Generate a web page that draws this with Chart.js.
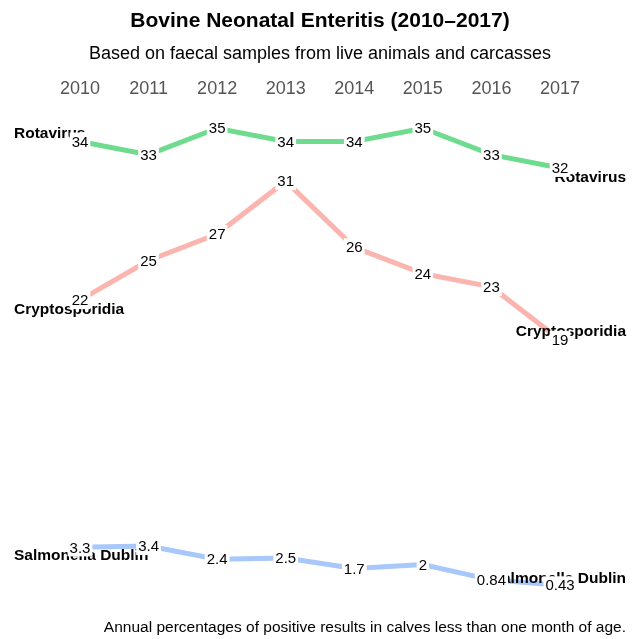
<!DOCTYPE html>
<html>
<head>
<meta charset="utf-8">
<script src="https://cdn.jsdelivr.net/npm/chart.js@4.4.1/dist/chart.umd.min.js"></script>
<style>
  html, body { margin: 0; padding: 0; background: #ffffff; }
  #wrap { width: 638px; height: 639px; }
</style>
</head>
<body>
<div id="wrap"><canvas id="enteritisChart" width="638" height="639"></canvas></div>
<script>
// Data
const years = ['2010', '2011', '2012', '2013', '2014', '2015', '2016', '2017'];
const rotavirus = [34, 33, 35, 34, 34, 35, 33, 32];
const cryptosporidia = [22, 25, 27, 31, 26, 24, 23, 19];
const salmonellaDublin = [3.3, 3.4, 2.4, 2.5, 1.7, 2, 0.84, 0.43];
const seriesNames = ['Rotavirus', 'Cryptosporidia', 'Salmonella Dublin'];
const seriesColors = ['#6fdb8e', '#fbb4ae', '#a8c7fa'];

const FONT = "'Liberation Sans', Arial, Helvetica, sans-serif";

// offsets (px) of the series name from the first / last point
const nameOffsets = [
  { left: -8, right: 10 },
  { left: 10, right: -8 },
  { left: 8, right: -7 }
];

const labelPlugin = {
  id: 'slopeLabels',
  afterDatasetsDraw(chart) {
    const ctx = chart.ctx;
    ctx.save();

    // series names at both ends
    ctx.font = 'bold 15.5px ' + FONT;
    ctx.fillStyle = '#000000';
    ctx.textBaseline = 'middle';
    chart.data.datasets.forEach((ds, i) => {
      const pts = chart.getDatasetMeta(i).data;
      const first = pts[0];
      const last = pts[pts.length - 1];
      ctx.textAlign = 'left';
      ctx.fillText(seriesNames[i], 14, first.y + nameOffsets[i].left);
      ctx.textAlign = 'right';
      ctx.fillText(seriesNames[i], 626, last.y + nameOffsets[i].right);
    });

    // value labels with white background
    ctx.font = '15px ' + FONT;
    ctx.textAlign = 'center';
    chart.data.datasets.forEach((ds, i) => {
      const pts = chart.getDatasetMeta(i).data;
      pts.forEach((p, j) => {
        const txt = String(ds.data[j]);
        const w = ctx.measureText(txt).width;
        ctx.fillStyle = '#ffffff';
        ctx.fillRect(p.x - w / 2 - 2, p.y - 9, w + 4, 18);
        ctx.fillStyle = '#000000';
        ctx.fillText(txt, p.x, p.y + 1);
      });
    });

    // caption
    ctx.font = '15.5px ' + FONT;
    ctx.textAlign = 'right';
    ctx.fillStyle = '#000000';
    ctx.fillText('Annual percentages of positive results in calves less than one month of age.', 626, 628);
    ctx.restore();
  }
};

const ctx = document.getElementById('enteritisChart').getContext('2d');
new Chart(ctx, {
  type: 'line',
  data: {
    labels: years,
    datasets: [
      { label: seriesNames[0], data: rotavirus },
      { label: seriesNames[1], data: cryptosporidia },
      { label: seriesNames[2], data: salmonellaDublin }
    ].map((d, i) => Object.assign(d, {
      borderColor: seriesColors[i],
      backgroundColor: seriesColors[i],
      borderWidth: 5,
      pointRadius: 0,
      tension: 0,
      fill: false
    }))
  },
  options: {
    responsive: false,
    animation: false,
    devicePixelRatio: 1,
    layout: { padding: { left: 80, right: 78, top: 0, bottom: 48 } },
    plugins: {
      legend: { display: false },
      tooltip: { enabled: false },
      title: {
        display: true,
        text: 'Bovine Neonatal Enteritis (2010\u20132017)',
        color: '#000000',
        font: { family: FONT, size: 21, weight: 'bold' },
        padding: { top: 9, bottom: 5 }
      },
      subtitle: {
        display: true,
        text: 'Based on faecal samples from live animals and carcasses',
        color: '#000000',
        font: { family: FONT, size: 18 },
        padding: { top: 4, bottom: 0 }
      }
    },
    scales: {
      x: {
        position: 'top',
        offset: false,
        grid: { display: false, drawTicks: false },
        border: { display: false },
        ticks: { color: '#555555', font: { family: FONT, size: 18 }, padding: 13, maxRotation: 0 }
      },
      y: {
        display: false,
        min: 0,
        max: 36.2
      }
    }
  },
  plugins: [labelPlugin]
});
</script>
</body>
</html>
